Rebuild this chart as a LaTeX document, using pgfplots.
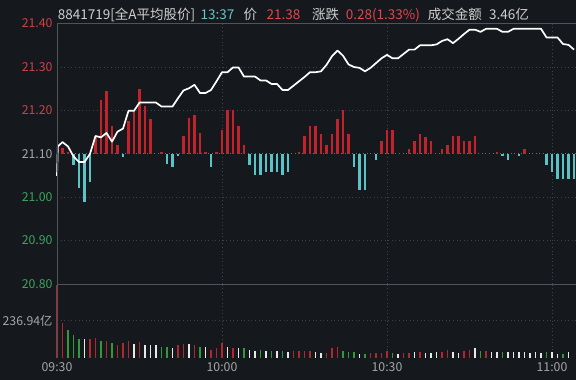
\documentclass[border=0pt]{standalone}
\usepackage{pgfplots}
\pgfplotsset{compat=1.18}
\usepackage{fontspec}
\setmainfont{Noto Sans CJK SC}
\definecolor{bg}{HTML}{15181D}
\definecolor{gridc}{HTML}{3E424A}
\definecolor{sepc}{HTML}{50535A}
\definecolor{basec}{HTML}{6A6D73}
\definecolor{lgrey}{HTML}{A6A6A6}
\definecolor{hgrey}{HTML}{CFCFCF}
\definecolor{pred}{HTML}{CC4148}
\definecolor{hred}{HTML}{E0474D}
\definecolor{pgreen}{HTML}{3DA35D}
\definecolor{hcyan}{HTML}{66C6C8}
\definecolor{barred}{HTML}{C2232A}
\definecolor{barcyan}{HTML}{5BC2C6}
\definecolor{vred}{HTML}{B3262B}
\definecolor{vgreen}{HTML}{2F9A3A}
\definecolor{vwhite}{HTML}{E8E8E8}
\pgfplotsset{
  base/.style={scale only axis, width=519pt, xmin=0, xmax=94.36,
    axis line style={draw=none}, major tick length=0pt, clip=false,
    grid style={gridc, dash pattern=on 1pt off 2.6pt, line width=0.8pt},
    every tick label/.append style={font=\fontsize{12.3}{14}\selectfont},
    /pgf/number format/assume math mode=true},
}
\begin{document}
\begin{tikzpicture}[x=1pt,y=1pt]
\fill[bg] (0,0) rectangle (576,380);
\useasboundingbox (0,0) rectangle (576,380);

% bar indicator axis (with grids)
\begin{axis}[base, at={(57pt,96pt)}, anchor=south west, height=260.4pt,
  ymin=-30, ymax=30, ytick={-20,-10,10,20}, yticklabels={}, ymajorgrids,
  xtick={30,60,90}, xticklabels={}, xmajorgrids]
\draw[basec, dash pattern=on 1pt off 2.6pt, line width=0.8pt] (axis cs:0,0) -- (axis cs:94.36,0);
\addplot[ycomb, barred, line width=2.2pt] coordinates {
(1,1.3) (2,0.4) (7,4.0) (8,12.4) (9,14.4) (10,6.3) (11,2.1) (13,7.5) (14,10.0) (15,15.0)
(16,10.9) (17,8.1) (19,0.4) (23,4.0) (24,8.2) (25,9.0) (26,4.8) (27,0.5) (29,0.5) (30,5.5)
(31,10.0) (32,10.0) (33,6.5) (34,2.1) (44,0.5) (45,4.0) (46,6.5) (47,6.5) (48,4.6) (49,2.0)
(50,4.6) (51,8.0) (52,10.0) (53,4.6) (59,3.0) (60,5.5) (61,5.5) (64,1.1) (65,3.0) (66,4.6)
(67,3.8) (68,3.0) (70,1.2) (71,2.1) (72,4.0) (73,4.0) (74,3.0) (75,3.0) (76,4.0) (80,0.5) (85,1.2)
};
\addplot[ycomb, barcyan, line width=2.2pt] coordinates {
(3,-2.5) (4,-7.9) (5,-11.0) (6,-6.5) (12,-0.7) (20,-2.4) (21,-3.1) (22,-0.6) (28,-3.1)
(35,-2.5) (36,-5.0) (37,-5.0) (38,-4.1) (39,-4.1) (40,-4.1) (41,-5.0) (42,-4.1)
(54,-3.1) (55,-8.4) (56,-8.4) (58,-1.5) (81,-0.6) (82,-1.5) (84,-0.6)
(89,-2.5) (90,-4.1) (91,-5.8) (92,-5.8) (93,-5.8) (94,-5.8)
};
\end{axis}

% price axis
\begin{axis}[base, at={(57pt,96pt)}, anchor=south west, height=260.4pt,
  ymin=20.8, ymax=21.4, ytick={20.8,20.9,21.0,21.1,21.2,21.3,21.4},
  yticklabels={\textcolor{pgreen}{20.80},\textcolor{pgreen}{20.90},\textcolor{pgreen}{21.00},\textcolor{lgrey}{21.10},\textcolor{pred}{21.20},\textcolor{pred}{21.30},\textcolor{pred}{21.40}},
  yticklabel style={anchor=east, inner sep=0pt, xshift=-4.3pt},
  xtick=\empty]
\addplot[color=white, line width=1.7pt, line join=round] coordinates {
(0,21.049) (0.15,21.117) (1,21.127) (2,21.117) (3,21.094) (4,21.081) (5,21.081) (6,21.100)
(7,21.141) (8,21.138) (9,21.148) (10,21.128) (11,21.151) (12,21.158) (13,21.199) (14,21.199)
(15,21.218) (16,21.218) (17,21.218) (18,21.218) (19,21.209) (20,21.209) (21,21.209) (22,21.228)
(23,21.246) (24,21.251) (25,21.259) (26,21.240) (27,21.240) (28,21.247) (29,21.267) (30,21.288)
(31,21.288) (32,21.299) (33,21.299) (34,21.278) (35,21.278) (36,21.278) (37,21.269) (38,21.269)
(39,21.261) (40,21.261) (41,21.247) (42,21.247) (43,21.257) (44,21.267) (45,21.277) (46,21.288)
(47,21.288) (48,21.290) (49,21.305) (50,21.325) (51,21.338) (52,21.326) (53,21.306) (54,21.300)
(55,21.298) (56,21.290) (57,21.298) (58,21.309) (59,21.320) (60,21.328) (61,21.320) (62,21.320)
(63,21.330) (64,21.340) (65,21.340) (66,21.350) (67,21.350) (68,21.350) (69,21.352) (70,21.360)
(71,21.364) (72,21.355) (73,21.365) (74,21.376) (75,21.386) (76,21.386) (77,21.381) (78,21.388)
(79,21.388) (80,21.388) (81,21.381) (82,21.381) (83,21.388) (84,21.388) (85,21.388) (86,21.388)
(87,21.388) (88,21.388) (89,21.368) (90,21.368) (91,21.368) (92,21.353) (93,21.351) (94,21.340)
};
\end{axis}

% volume axis
\begin{axis}[base, at={(57pt,22.3pt)}, anchor=south west, height=73.7pt,
  ymin=0, ymax=473.88, ytick={236.94}, yticklabels={\textcolor{lgrey}{236.94亿}}, ymajorgrids,
  yticklabel style={anchor=east, inner sep=0pt, xshift=-4.3pt},
  xtick={0,30,60,90}, xticklabels={09:30,10:00,10:30,11:00}, xmajorgrids,
  xticklabel style={anchor=north, inner sep=0pt, yshift=-5pt, text=lgrey}]
\addplot[ycomb, vred, line width=1.5pt] coordinates {
(0,470) (1,225) (6,122) (7,127) (9,105) (11,83) (12,92) (13,105) (15,98) (22,83) (23,87) (25,83)
(28,50) (29,63) (30,92) (32,63) (43,46) (44,46) (45,46) (46,46) (49,33) (50,63) (51,66) (57,33)
(58,33) (59,28) (60,46) (63,28) (64,28) (66,35) (70,39) (71,50) (74,46) (75,50) (78,46)
};
\addplot[ycomb, vgreen, line width=1.5pt] coordinates {
(2,181) (3,148) (4,122) (8,105) (10,92) (19,72) (20,72) (26,70) (34,63) (37,50) (39,46) (41,46)
(52,46) (53,39) (54,39) (56,26) (61,33) (77,46) (81,39) (89,35) (92,26)
};
\addplot[ycomb, vwhite, line width=1.5pt] coordinates {
(5,122) (14,87) (16,83) (17,83) (18,79) (21,63) (24,87) (27,66) (31,70) (33,63) (35,50) (36,46)
(38,41) (40,46) (42,37) (47,37) (48,33) (55,26) (62,26) (65,35) (67,33) (68,33) (69,35) (72,39)
(73,33) (76,61) (79,39) (80,39) (82,35) (83,39) (84,35) (85,35) (86,28) (87,35) (88,28) (90,35)
(91,26) (93,39)
};
\end{axis}

% frame lines
\draw[sepc, line width=0.9pt] (57,96) -- (576,96);
\draw[sepc, line width=0.9pt] (57,356.4) -- (576,356.4);
\draw[sepc, line width=0.9pt] (57,22.3) -- (57,356.4);

% header
\begin{scope}[every node/.style={inner sep=0pt, anchor=base west, font=\fontsize{13.5}{16}\selectfont}]
\node[text=hgrey] at (57.7,360) {8841719[全A平均股价]};
\node[text=hcyan] at (200.4,360) {13:37};
\node[text=hgrey] at (243.4,360) {价};
\node[text=hred] at (266.5,360) {21.38};
\node[text=hgrey] at (311.8,360) {涨跌};
\node[text=hred] at (345.6,360) {0.28(1.33\%)};
\node[text=hgrey] at (427.6,360) {成交金额};
\node[text=hgrey] at (489,360) {3.46亿};
\end{scope}
\end{tikzpicture}
\end{document}
